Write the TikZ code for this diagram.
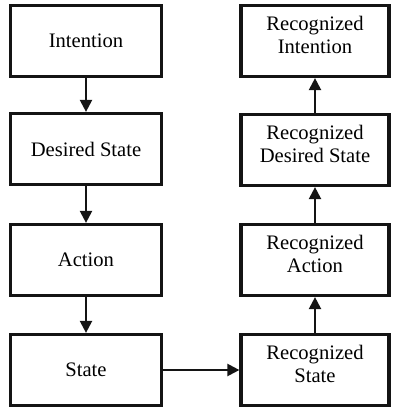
\documentclass[tikz,border=0pt]{standalone}
\usepackage{fontspec}
\setmainfont{Liberation Serif}
\usetikzlibrary{arrows.meta}
\begin{document}
\begin{tikzpicture}[x=1pt,y=-1pt,
  box/.style={draw=black!92,line width=3.2pt,minimum height=71pt,inner sep=0pt,align=center,font=\fontsize{20.6}{23.5}\selectfont},
  lbox/.style={box,minimum width=151pt},
  rbox/.style={box,minimum width=148pt,text depth=12pt},
  arr/.style={line width=2.2pt,draw=black!92,-{Triangle[length=12pt,width=12pt]}}]
\useasboundingbox (0,0) rectangle (392,411);
\node[lbox] (i) at (86,41) {Intention};
\node[lbox] (d) at (86,149) {Desired State};
\node[lbox] (a) at (86,260) {Action};
\node[lbox] (s) at (86,370) {State};
\node[rbox] (ri) at (315,41) {Recognized\\Intention};
\node[rbox] (rd) at (315,150) {Recognized\\Desired State};
\node[rbox] (ra) at (315,260) {Recognized\\Action};
\node[rbox] (rs) at (315,370) {Recognized\\State};
\draw[arr] (i) -- (d);
\draw[arr] (d) -- (a);
\draw[arr] (a) -- (s);
\draw[arr] (s) -- (rs);
\draw[arr] (rs) -- (ra);
\draw[arr] (ra) -- (rd);
\draw[arr] (rd) -- (ri);
\end{tikzpicture}
\end{document}
